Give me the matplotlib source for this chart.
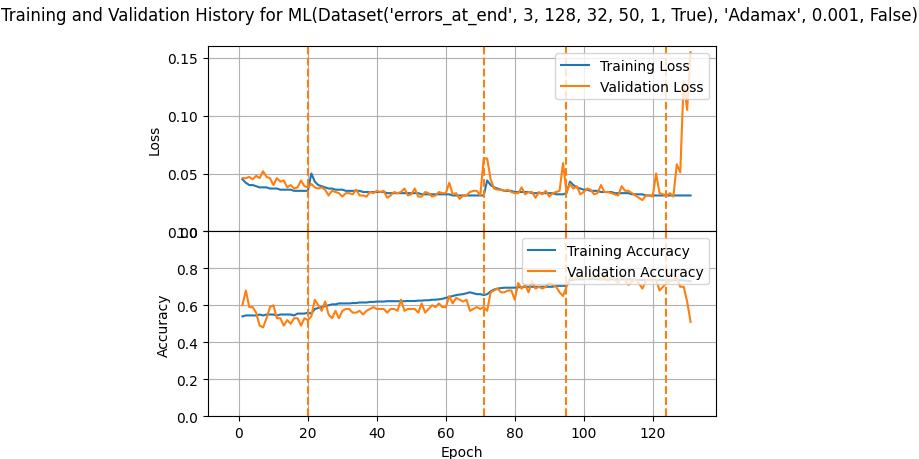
import numpy as np
import matplotlib.pyplot as plt

title = "Training and Validation History for ML(Dataset('errors_at_end', 3, 128, 32, 50, 1, True), 'Adamax', 0.001, False)"

train_loss = [
    0.045, 0.042, 0.040, 0.040, 0.039, 0.038, 0.038, 0.038, 0.037, 0.037,
    0.037, 0.036, 0.036, 0.036, 0.036, 0.035, 0.035, 0.035, 0.035, 0.035,
    0.050, 0.043, 0.040, 0.039, 0.038, 0.037, 0.037, 0.036, 0.036, 0.036,
    0.035, 0.035, 0.035, 0.035, 0.035, 0.034, 0.034, 0.034, 0.034, 0.034,
    0.034, 0.034, 0.033, 0.033, 0.033, 0.033, 0.033, 0.033, 0.033, 0.033,
    0.033, 0.033, 0.032, 0.032, 0.032, 0.032, 0.032, 0.032, 0.032, 0.032,
    0.032, 0.031, 0.031, 0.031, 0.031, 0.031, 0.031, 0.031, 0.031, 0.031,
    0.031, 0.044, 0.040, 0.038, 0.037, 0.036, 0.035, 0.035, 0.035, 0.034,
    0.034, 0.034, 0.034, 0.034, 0.033, 0.033, 0.033, 0.033, 0.033, 0.033,
    0.033, 0.032, 0.032, 0.032, 0.033, 0.043, 0.040, 0.038, 0.037, 0.036,
    0.036, 0.035, 0.035, 0.035, 0.034, 0.034, 0.034, 0.034, 0.033, 0.033,
    0.033, 0.033, 0.033, 0.032, 0.032, 0.032, 0.032, 0.031, 0.031, 0.031,
    0.031, 0.031, 0.031, 0.031, 0.031, 0.031, 0.031, 0.031, 0.031, 0.031,
    0.031,
]
val_loss = [
    0.046, 0.046, 0.047, 0.045, 0.048, 0.046, 0.052, 0.047, 0.046, 0.040,
    0.046, 0.043, 0.044, 0.038, 0.040, 0.037, 0.038, 0.044, 0.039, 0.038,
    0.041, 0.038, 0.037, 0.038, 0.036, 0.031, 0.035, 0.034, 0.033, 0.030,
    0.033, 0.033, 0.032, 0.036, 0.031, 0.031, 0.030, 0.034, 0.033, 0.035,
    0.034, 0.035, 0.029, 0.031, 0.034, 0.033, 0.034, 0.037, 0.031, 0.032,
    0.037, 0.030, 0.030, 0.034, 0.033, 0.030, 0.031, 0.034, 0.033, 0.033,
    0.042, 0.032, 0.033, 0.028, 0.031, 0.031, 0.034, 0.035, 0.035, 0.031,
    0.063, 0.063, 0.045, 0.037, 0.036, 0.036, 0.035, 0.036, 0.034, 0.033,
    0.033, 0.038, 0.032, 0.034, 0.034, 0.029, 0.034, 0.032, 0.035, 0.030,
    0.033, 0.034, 0.035, 0.059, 0.034, 0.041, 0.037, 0.039, 0.032, 0.034,
    0.037, 0.036, 0.032, 0.033, 0.040, 0.034, 0.034, 0.033, 0.032, 0.031,
    0.039, 0.035, 0.035, 0.033, 0.031, 0.029, 0.027, 0.031, 0.031, 0.030,
    0.050, 0.033, 0.032, 0.031, 0.033, 0.030, 0.058, 0.051, 0.130, 0.105,
    0.155,
]
train_acc = [
    0.54, 0.545, 0.545, 0.545, 0.545, 0.55, 0.545, 0.55, 0.55, 0.55,
    0.545, 0.55, 0.55, 0.55, 0.55, 0.545, 0.555, 0.555, 0.555, 0.56,
    0.555, 0.58, 0.585, 0.59, 0.595, 0.60, 0.605, 0.605, 0.61, 0.61,
    0.61, 0.61, 0.612, 0.612, 0.615, 0.615, 0.615, 0.618, 0.618, 0.62,
    0.62, 0.62, 0.622, 0.622, 0.622, 0.622, 0.622, 0.622, 0.623, 0.623,
    0.623, 0.625, 0.625, 0.627, 0.627, 0.63, 0.63, 0.632, 0.635, 0.64,
    0.645, 0.65, 0.655, 0.658, 0.66, 0.665, 0.67, 0.665, 0.66, 0.66,
    0.655, 0.66, 0.675, 0.685, 0.69, 0.693, 0.695, 0.695, 0.695, 0.695,
    0.697, 0.698, 0.70, 0.70, 0.70, 0.70, 0.70, 0.70, 0.70, 0.70,
    0.70, 0.705, 0.705, 0.705, 0.705, 0.735, 0.738, 0.74, 0.74, 0.74,
    0.742, 0.742, 0.742, 0.74, 0.74, 0.74, 0.74, 0.74, 0.74, 0.74,
    0.74, 0.74, 0.74, 0.738, 0.738, 0.737, 0.737, 0.737, 0.737, 0.736,
    0.736, 0.736, 0.736, 0.736, 0.735, 0.735, 0.735, 0.735, 0.735, 0.733,
    0.73,
]
val_acc = [
    0.60, 0.68, 0.59, 0.59, 0.56, 0.49, 0.48, 0.53, 0.59, 0.60,
    0.53, 0.53, 0.49, 0.52, 0.50, 0.53, 0.53, 0.49, 0.53, 0.52,
    0.54, 0.63, 0.60, 0.57, 0.62, 0.55, 0.53, 0.57, 0.53, 0.57,
    0.58, 0.58, 0.56, 0.56, 0.57, 0.55, 0.57, 0.58, 0.59, 0.58,
    0.58, 0.58, 0.56, 0.58, 0.58, 0.57, 0.63, 0.57, 0.58, 0.58,
    0.58, 0.56, 0.61, 0.56, 0.58, 0.60, 0.59, 0.61, 0.59, 0.59,
    0.65, 0.61, 0.64, 0.63, 0.62, 0.63, 0.57, 0.58, 0.59, 0.58,
    0.59, 0.57, 0.67, 0.68, 0.69, 0.67, 0.67, 0.68, 0.68, 0.63,
    0.72, 0.69, 0.71, 0.67, 0.73, 0.69, 0.70, 0.69, 0.70, 0.72,
    0.71, 0.70, 0.67, 0.65, 0.70, 0.75, 0.74, 0.75, 0.76, 0.75,
    0.74, 0.76, 0.75, 0.76, 0.74, 0.75, 0.73, 0.76, 0.74, 0.72,
    0.76, 0.74, 0.71, 0.73, 0.74, 0.72, 0.69, 0.73, 0.74, 0.73,
    0.74, 0.68, 0.70, 0.72, 0.73, 0.74, 0.75, 0.70, 0.70, 0.62,
    0.51,
]
lr_changes = [20, 71, 95, 124]

epochs = np.arange(1, len(train_loss) + 1)

fig, (ax1, ax2) = plt.subplots(2, 1, sharex=True, figsize=(9.2, 4.6), dpi=100)
fig.subplots_adjust(hspace=0, left=0.226, right=0.778, top=0.897, bottom=0.093)
fig.suptitle(title, fontsize=12, y=0.985)

ax1.plot(epochs, train_loss, label='Training Loss')
ax1.plot(epochs, val_loss, label='Validation Loss')
for x in lr_changes:
    ax1.axvline(x, color='tab:orange', linestyle='--')
ax1.set_ylabel('Loss')
ax1.set_ylim(0, 0.16)
ax1.set_yticks([0, 0.05, 0.10, 0.15])
ax1.set_yticklabels(['0.00', '0.05', '0.10', '0.15'])
ax1.legend(loc='upper right')
ax1.grid(True)

ax2.plot(epochs, train_acc, label='Training Accuracy')
ax2.plot(epochs, val_acc, label='Validation Accuracy')
for x in lr_changes:
    ax2.axvline(x, color='tab:orange', linestyle='--')
ax2.set_ylabel('Accuracy')
ax2.set_xlabel('Epoch')
ax2.set_ylim(0, 1.0)
ax2.set_xlim(-9, 138.3)
ax2.legend(loc='upper right')
ax2.grid(True)

fig.savefig('out.png')
